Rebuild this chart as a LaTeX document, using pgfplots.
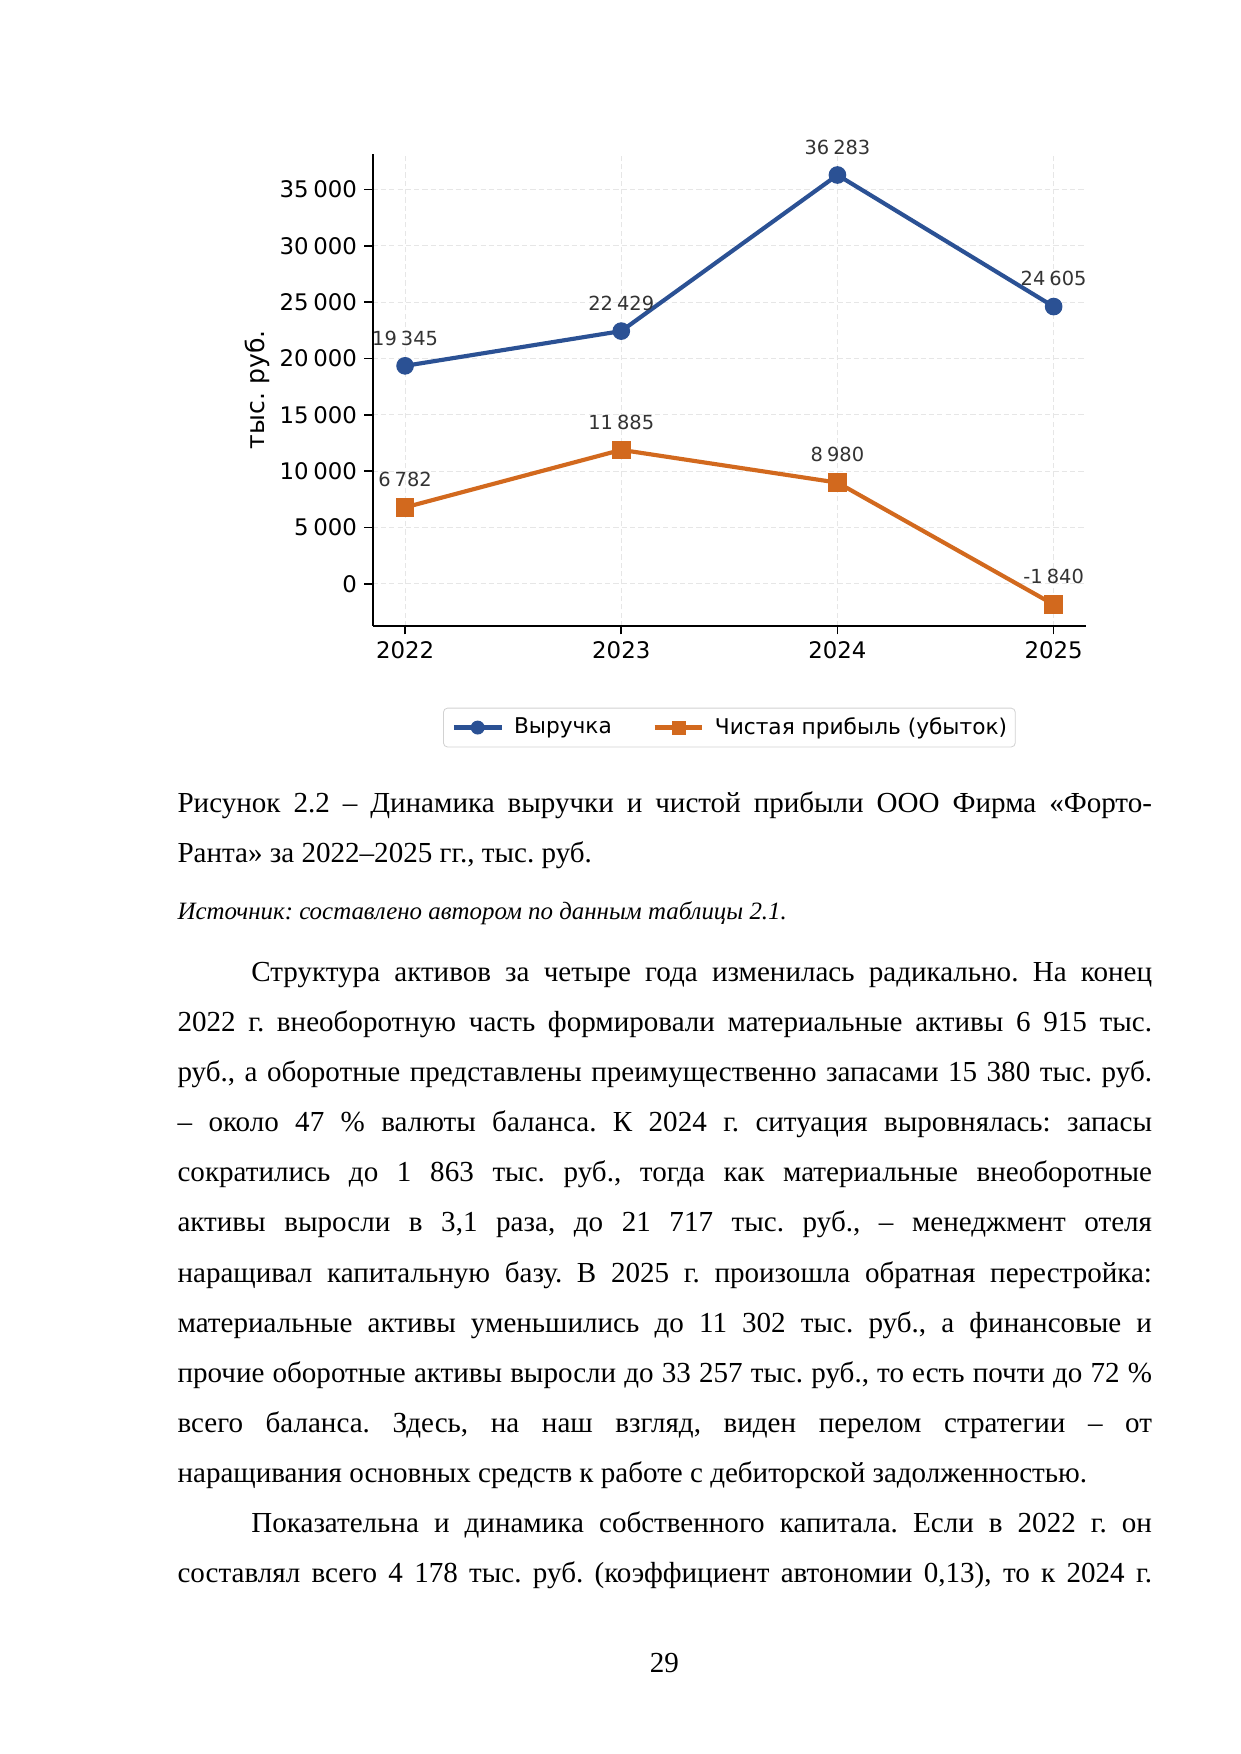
\documentclass[border=0pt]{standalone}
\usepackage{fontspec}
\setmainfont{Liberation Serif}
\newfontfamily\chartfont{DejaVu Sans}
\usepackage{pgfplots}
\pgfplotsset{compat=1.18}
\definecolor{revblue}{RGB}{43,81,148}
\definecolor{profor}{RGB}{210,105,30}
\definecolor{gridgray}{RGB}{230,230,230}
\definecolor{lblgray}{RGB}{51,51,51}
\definecolor{legframe}{RGB}{210,210,210}

\newcommand\ts{\hspace{0.21em}}
\newcommand\bodyfont{\fontsize{14}{24}\selectfont}
\newcommand\chartsize{\chartfont\fontsize{11}{13}\selectfont}
% justified line, justified indented line, plain line
\newcommand\LJ[2]{\node[anchor=base west,inner sep=0pt] at (30mm,#1mm) {\bodyfont\hbox to 165mm{#2}};}
\newcommand\LI[2]{\node[anchor=base west,inner sep=0pt] at (42.5mm,#1mm) {\bodyfont\hbox to 152.5mm{#2}};}
\newcommand\LL[2]{\node[anchor=base west,inner sep=0pt] at (30mm,#1mm) {\bodyfont #2};}

\begin{document}
\frenchspacing
\begin{tikzpicture}
\fill[white] (0,0) rectangle (210mm,297mm);
\path[use as bounding box] (0,0) rectangle (210mm,297mm);

\begin{axis}[
  at={(63.1mm,191.0mm)}, anchor=south west,
  scale only axis, width=120.8mm, height=80.0mm,
  xmin=2021.85, xmax=2025.15, ymin=-3746, ymax=38189,
  axis x line*=bottom, axis y line*=left,
  axis line style={-, line width=1pt, black},
  xtick={2022,2023,2024,2025}, xticklabels={2022,2023,2024,2025},
  ytick={0,5000,...,35000}, scaled y ticks=false,
  yticklabels={0,5\ts000,10\ts000,15\ts000,20\ts000,25\ts000,30\ts000,35\ts000},
  tick align=outside, major tick length=4pt,
  tick style={black, line width=0.8pt},
  tick label style={font=\chartsize},
  /pgf/number format/assume math mode=true,
  grid=major, grid style={gridgray, dash pattern=on 2.5pt off 1.5pt, line width=0.5pt},
  ylabel={тыс. руб.},
  ylabel style={font=\chartfont\fontsize{12.1}{14}\selectfont, at={(axis description cs:-0.161,0.5)}, anchor=center},
  clip=false,
  legend columns=2,
  legend style={at={(0.5,-0.215)}, anchor=center, draw=legframe, rounded corners=2pt,
    font=\chartfont\fontsize{10.45}{12}\selectfont,
    nodes={inner xsep=0pt, inner ysep=0pt},
    /tikz/every odd column/.append style={column sep=1.75mm},
    /tikz/every even column/.append style={column sep=6.9mm},
    inner xsep=1.4mm, inner ysep=1.6mm},
  legend image code/.code={\draw[sharp corners, mark repeat=2, mark phase=2, #1, mark size=3.1pt] plot coordinates {(0mm,0mm) (4.05mm,0mm) (8.1mm,0mm)};},
  nodes near coords, point meta=explicit symbolic,
  every node near coord/.append style={font=\chartfont\fontsize{9.35}{11}\selectfont, text=lblgray, anchor=base, yshift=10pt, inner sep=0pt},
]
  % выручка
  \addplot[revblue, line width=2pt, mark=*, mark size=4pt, mark options={solid, fill=revblue, line width=0.5pt}]
    coordinates {(2022,19345) [19\ts345] (2023,22429) [22\ts429] (2024,36283) [36\ts283] (2025,24605) [24\ts605]};
  \addlegendentry{Выручка}
  % чистая прибыль
  \addplot[profor, line width=2pt, mark=square*, mark size=4.2pt, mark options={solid, fill=profor, line width=0.5pt}]
    coordinates {(2022,6782) [6\ts782] (2023,11885) [11\ts885] (2024,8980) [8\ts980] (2025,-1840) [-1\ts840]};
  \addlegendentry{Чистая прибыль (убыток)}
\end{axis}

\LJ{159.39}{Рисунок 2.2 – Динамика выручки и чистой прибыли ООО Фирма «Форто-}
\LL{150.99}{Ранта» за 2022–2025 гг., тыс. руб.}
\node[anchor=base west,inner sep=0pt] at (30mm,141.34mm) {\fontsize{12}{14}\selectfont\itshape Источник: составлено автором по данным таблицы 2.1.};

\LI{130.82}{Структура активов за четыре года изменилась радикально. На конец}
\LJ{122.34}{2022 г. внеоборотную часть формировали материальные активы 6 915 тыс.}
\LJ{113.85}{руб., а оборотные представлены преимущественно запасами 15 380 тыс. руб.}
\LJ{105.37}{– около 47 \% валюты баланса. К 2024 г. ситуация выровнялась: запасы}
\LJ{96.89}{сократились до 1 863 тыс. руб., тогда как материальные внеоборотные}
\LJ{88.40}{активы выросли в 3,1 раза, до 21 717 тыс. руб., – менеджмент отеля}
\LJ{79.92}{наращивал капитальную базу. В 2025 г. произошла обратная перестройка:}
\LJ{71.44}{материальные активы уменьшились до 11 302 тыс. руб., а финансовые и}
\LJ{62.96}{прочие оборотные активы выросли до 33 257 тыс. руб., то есть почти до 72 \%}
\LJ{54.47}{всего баланса. Здесь, на наш взгляд, виден перелом стратегии – от}
\LL{45.99}{наращивания основных средств к работе с дебиторской задолженностью.}
\LI{37.51}{Показательна и динамика собственного капитала. Если в 2022 г. он}
\LJ{29.02}{составлял всего 4 178 тыс. руб. (коэффициент автономии 0,13), то к 2024 г.}

\node[anchor=base,inner sep=0pt] at (112.5mm,13.83mm) {\bodyfont 29};
\end{tikzpicture}
\end{document}
